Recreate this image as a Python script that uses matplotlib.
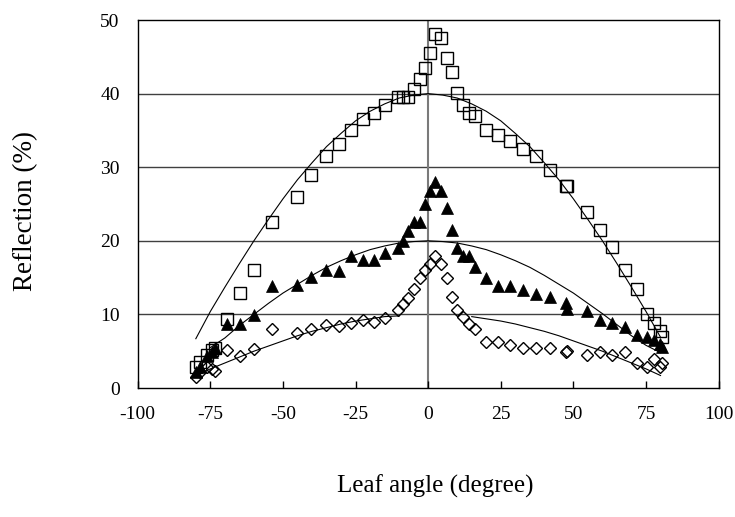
import numpy as np
import matplotlib
matplotlib.use("Agg")
import matplotlib.pyplot as plt

plt.rcParams['font.family'] = ['Liberation Serif', 'DejaVu Serif']
plt.rcParams['axes.unicode_minus'] = False

# leaf angle (degree) of the measured points
angle = [-80.0, -78.4, -76.2, -74.5, -73.4, -69.3, -64.8, -60.0, -53.7, -45.3,
         -40.3, -35.3, -30.8, -26.5, -22.4, -18.5, -14.7, -10.5, -8.5, -6.9,
         -5.0, -2.7, -1.1, 0.5, 2.4, 4.5, 6.5, 8.2, 10.0, 12.1,
         13.9, 16.1, 19.8, 24.2, 28.1, 32.7, 37.1, 42.1, 47.6, 47.9,
         54.8, 59.2, 63.2, 67.7, 71.8, 75.5, 77.6, 79.7, 80.4]

# reflection (%) - open squares
refl_sq = [2.9, 3.6, 4.5, 5.2, 5.5, 9.4, 12.9, 16.1, 22.6, 26.0,
           29.0, 31.5, 33.1, 35.0, 36.6, 37.4, 38.5, 39.5, 39.5, 39.5,
           40.6, 42.0, 43.5, 45.5, 48.1, 47.6, 44.9, 43.0, 40.1, 38.5,
           37.4, 37.0, 35.0, 34.4, 33.6, 32.5, 31.5, 29.6, 27.4, 27.4,
           23.9, 21.5, 19.1, 16.0, 13.4, 10.0, 8.9, 7.7, 6.9]

# reflection (%) - filled triangles
refl_tri = [2.2, 2.9, 4.4, 4.9, 5.4, 8.7, 8.7, 9.9, 13.9, 14.0,
            15.1, 16.0, 15.9, 17.9, 17.4, 17.4, 18.4, 19.0, 20.0, 21.4,
            22.5, 22.5, 25.0, 26.7, 28.0, 26.7, 24.5, 21.5, 19.0, 17.9,
            17.9, 16.4, 15.0, 13.9, 13.9, 13.3, 12.8, 12.3, 11.6, 10.8,
            10.5, 9.3, 8.8, 8.3, 7.2, 6.9, 6.5, 6.0, 5.6]

# reflection (%) - open diamonds
refl_dia = [1.5, 2.2, 2.9, 2.6, 2.3, 5.1, 4.4, 5.3, 8.0, 7.5,
            8.0, 8.6, 8.4, 8.8, 9.3, 9.0, 9.5, 10.6, 11.4, 12.2,
            13.4, 14.9, 16.0, 16.9, 18.0, 16.9, 14.9, 12.3, 10.6, 9.6,
            8.7, 8.0, 6.3, 6.3, 5.8, 5.4, 5.4, 5.4, 4.9, 5.0,
            4.5, 4.9, 4.5, 4.9, 3.4, 2.9, 4.0, 2.8, 3.4]

# fitted curves
fit_angle = [-80, -75, -70, -65, -60, -55, -50, -45, -40, -35, -30, -25, -20, -15, -10, -5,
             0, 5, 10, 15, 20, 25, 30, 35, 40, 45, 50, 55, 60, 65, 70, 75, 80]
fit_sq = [6.7, 10.4, 13.7, 16.9, 20.0, 22.9, 25.7, 28.3, 30.6, 32.8, 34.6, 36.3, 37.6, 38.6, 39.4, 39.8,
          40.0, 39.8, 39.4, 38.6, 37.6, 36.3, 34.6, 32.8, 30.6, 28.3, 25.7, 22.9, 20.0, 16.9, 13.7, 10.4, 6.9]
fit_tri = [np.nan, 5.5, 6.8, 8.5, 10.0, 11.5, 12.9, 14.1, 15.3, 16.4, 17.3, 18.1, 18.8, 19.3, 19.7, 19.9,
           20.0, 19.9, 19.7, 19.3, 18.8, 18.1, 17.3, 16.4, 15.3, 14.1, 12.9, 11.5, 10.1, 8.6, 7.1, 5.8, 4.8]
fit_dia = [1.7, 2.6, 3.4, 4.2, 5.0, 5.7, 6.4, 7.1, 7.7, 8.2, 8.7, 9.1, 9.4, 9.7, 9.8, np.nan,
           np.nan, np.nan, np.nan, 9.7, 9.4, 9.1, 8.7, 8.2, 7.7, 7.1, 6.4, 5.7, 5.0, 4.2, 3.4, 2.6, 1.7]

fig = plt.figure(figsize=(7.35, 5.17), dpi=100)
ax = fig.add_axes([0.1874, 0.2495, 0.7903, 0.7118])

for lvl in [10, 20, 30, 40]:
    ax.axhline(lvl, color='#404040', lw=1.0, zorder=1)
ax.axvline(0, color='#7a7a7a', lw=1.5, zorder=1)

ax.plot(fit_angle, fit_sq, color='black', lw=0.8, zorder=2)
ax.plot(fit_angle, fit_tri, color='black', lw=0.8, zorder=2)
ax.plot(fit_angle, fit_dia, color='black', lw=0.8, zorder=2)

ax.plot(angle, refl_sq, ls='none', marker='s', ms=8, mfc='none', mec='black', mew=1.0, zorder=3)
ax.plot(angle, refl_tri, ls='none', marker='^', ms=8.5, mfc='black', mec='black', mew=0.5, zorder=3)
ax.plot(angle, refl_dia, ls='none', marker='D', ms=6.5, mfc='none', mec='black', mew=1.0, zorder=3)

ax.set_xlim(-100, 100)
ax.set_ylim(0, 50)
ax.set_xticks([-100, -75, -50, -25, 0, 25, 50, 75, 100])
ax.set_yticks([0, 10, 20, 30, 40, 50])
ax.tick_params(axis='x', direction='in', length=5, width=1, pad=13, labelsize=14)
ax.tick_params(axis='y', length=0, pad=13, labelsize=14)
for s in ax.spines.values():
    s.set_linewidth(1.0)

ax.set_xlabel('Leaf angle (degree)', fontsize=18)
ax.set_ylabel('Reflection (%)', fontsize=19.5)
ax.xaxis.set_label_coords(0.512, -0.235)
ax.yaxis.set_label_coords(-0.172, 0.48)

fig.savefig('out.png', dpi=100)
